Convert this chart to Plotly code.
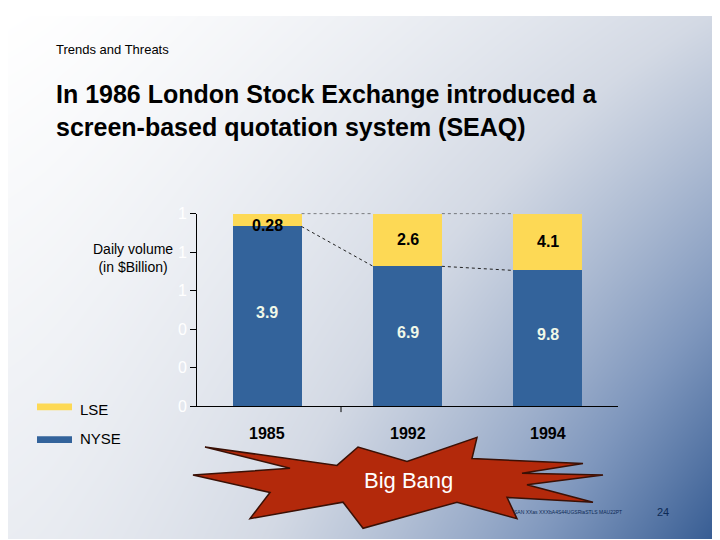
import numpy as np
import plotly.graph_objects as go

years = ["1985", "1992", "1994"]
nyse = [3.9, 6.9, 9.8]
lse = [0.28, 2.6, 4.1]
tick_vals = [0, 0.2, 0.4, 0.6, 0.8, 1.0]
tick_text = ["0", "0", "0", "1", "1", "1"]

W, H = 720, 540
OFF = 8  # page body margin
BLUE = "#33639b"
YELLOW = "#fdd955"

def px(x):
    return (x - OFF) / W

def py(y):
    return 1 - (y - OFF) / H

fig = go.Figure()

# background gradient on the first axes so the chart sits above it
gx = np.linspace(0, 1, 60)
gy = np.linspace(0, 1, 45)
GX, GY = np.meshgrid(gx, gy)
Z = 0.75 * GX ** 1.6 * (0.35 + 0.65 * GY) + 0.18 * GY + 0.12 * GX
fig.add_trace(go.Heatmap(x=gx, y=gy, z=Z, zsmooth="best", showscale=False, hoverinfo="skip",
                         colorscale=[[0, "#ffffff"], [0.35, "#d3d9e4"], [0.7, "#7f97bd"], [1, "#30578f"]],
                         xaxis="x", yaxis="y"))

tot = [a + b for a, b in zip(nyse, lse)]
fn = [a / t for a, t in zip(nyse, tot)]
xi = list(range(len(years)))

fig.add_trace(go.Bar(x=xi, y=fn, marker_color=BLUE, width=0.49, marker_line_width=0,
                     xaxis="x2", yaxis="y2"))
fig.add_trace(go.Bar(x=xi, y=[1 - f for f in fn], marker_color=YELLOW, width=0.49,
                     marker_line_width=0, xaxis="x2", yaxis="y2"))

# dotted connector lines
cx, cy = [], []
for i in range(len(years) - 1):
    cx += [i + 0.245, i + 1 - 0.245, None, i + 0.245, i + 1 - 0.245, None]
    cy += [fn[i], fn[i + 1], None, 1, 1, None]
fig.add_trace(go.Scatter(x=cx, y=cy, mode="lines", line=dict(color="#222", width=1, dash="dot"),
                         hoverinfo="skip", xaxis="x2", yaxis="y2"))

ann = []
for i, y in enumerate(years):
    ann.append(dict(x=i, y=fn[i] / 2 + 0.02, text=f"<b>{nyse[i]}</b>", showarrow=False,
                    xref="x2", yref="y2", font=dict(size=16, color="#f0f8e8")))
    ly = (1 + fn[i]) / 2 if 1 - fn[i] > 0.1 else 0.94
    ann.append(dict(x=i, y=ly, text=f"<b>{lse[i]}</b>", showarrow=False,
                    xref="x2", yref="y2", font=dict(size=16, color="black")))
    ann.append(dict(x=i, y=py(439), text=f"<b>{y}</b>", showarrow=False, yanchor="middle",
                    xref="x2", yref="paper", font=dict(size=16, color="black")))

def pann(x, y, text, size, anchor="left", color="black", **kw):
    ann.append(dict(x=px(x), y=py(y), xref="paper", yref="paper", text=text, showarrow=False,
                    xanchor=anchor, yanchor="middle", font=dict(size=size, color=color), **kw))

pann(54, 43, "Trends and Threats", 13)
pann(54, 106, "<b>In 1986 London Stock Exchange introduced a<br>screen-based quotation system (SEAQ)</b>", 25,
     align="left")
pann(175, 258, "Daily volume<br>(in $Billion)", 14, anchor="right", align="center")
pann(78, 414, "LSE", 15)
pann(78, 444, "NYSE", 15)
pann(408, 488, "Big Bang", 22, anchor="center", color="white")
pann(512, 520, "SAN XXas XXXbA4S44UGSRiaSTLS MAU22PT", 5, color="#0d2a55")
pann(655, 520, "24", 11, color="#0d2a55")

star = [(205, 453), (337, 472), (358, 453), (407, 468), (477, 443), (472, 465), (583, 470),
        (522, 480), (603, 482), (527, 492), (593, 510), (507, 505), (517, 527), (457, 510),
        (363, 537), (343, 510), (250, 527), (270, 500), (193, 482), (290, 475)]
path = "M " + " L ".join(f"{px(a):.4f},{py(b):.4f}" for a, b in star) + " Z"

shapes = [
    dict(type="path", path=path, xref="paper", yref="paper", fillcolor="#b3290b",
         line=dict(color="#3a1005", width=1.5)),
    dict(type="rect", xref="paper", yref="paper", x0=px(37), x1=px(72), y0=py(415), y1=py(408),
         fillcolor=YELLOW, line_width=0),
    dict(type="rect", xref="paper", yref="paper", x0=px(37), x1=px(72), y0=py(449), y1=py(442),
         fillcolor=BLUE, line_width=0),
    dict(type="line", xref="paper", yref="paper", x0=px(341), x1=px(341), y0=py(411), y1=py(417),
         line=dict(color="black", width=1)),
]

fig.update_layout(
    width=W, height=H, margin=dict(l=0, r=0, t=0, b=0), barmode="stack", showlegend=False,
    plot_bgcolor="rgba(0,0,0,0)", paper_bgcolor="white",
    font=dict(family="Liberation Sans, Arial, sans-serif", color="black"),
    xaxis=dict(domain=[0, 1], range=[0, 1], visible=False),
    yaxis=dict(domain=[0, 1], range=[1, 0], visible=False),
    xaxis2=dict(domain=[px(197), px(618)], range=[-0.5, 2.5], showticklabels=False, showgrid=False,
                showline=True, linecolor="black", ticks="", zeroline=False, anchor="y2"),
    yaxis2=dict(domain=[py(411), py(212)], range=[0, 1.0], tickvals=tick_vals, ticktext=tick_text,
                showgrid=False, showline=True, linecolor="black", ticks="outside", ticklen=6,
                tickcolor="black", tickfont=dict(size=16, color="white"), zeroline=False,
                anchor="x2"),
    annotations=ann, shapes=shapes,
)

fig.write_html("out.html")
